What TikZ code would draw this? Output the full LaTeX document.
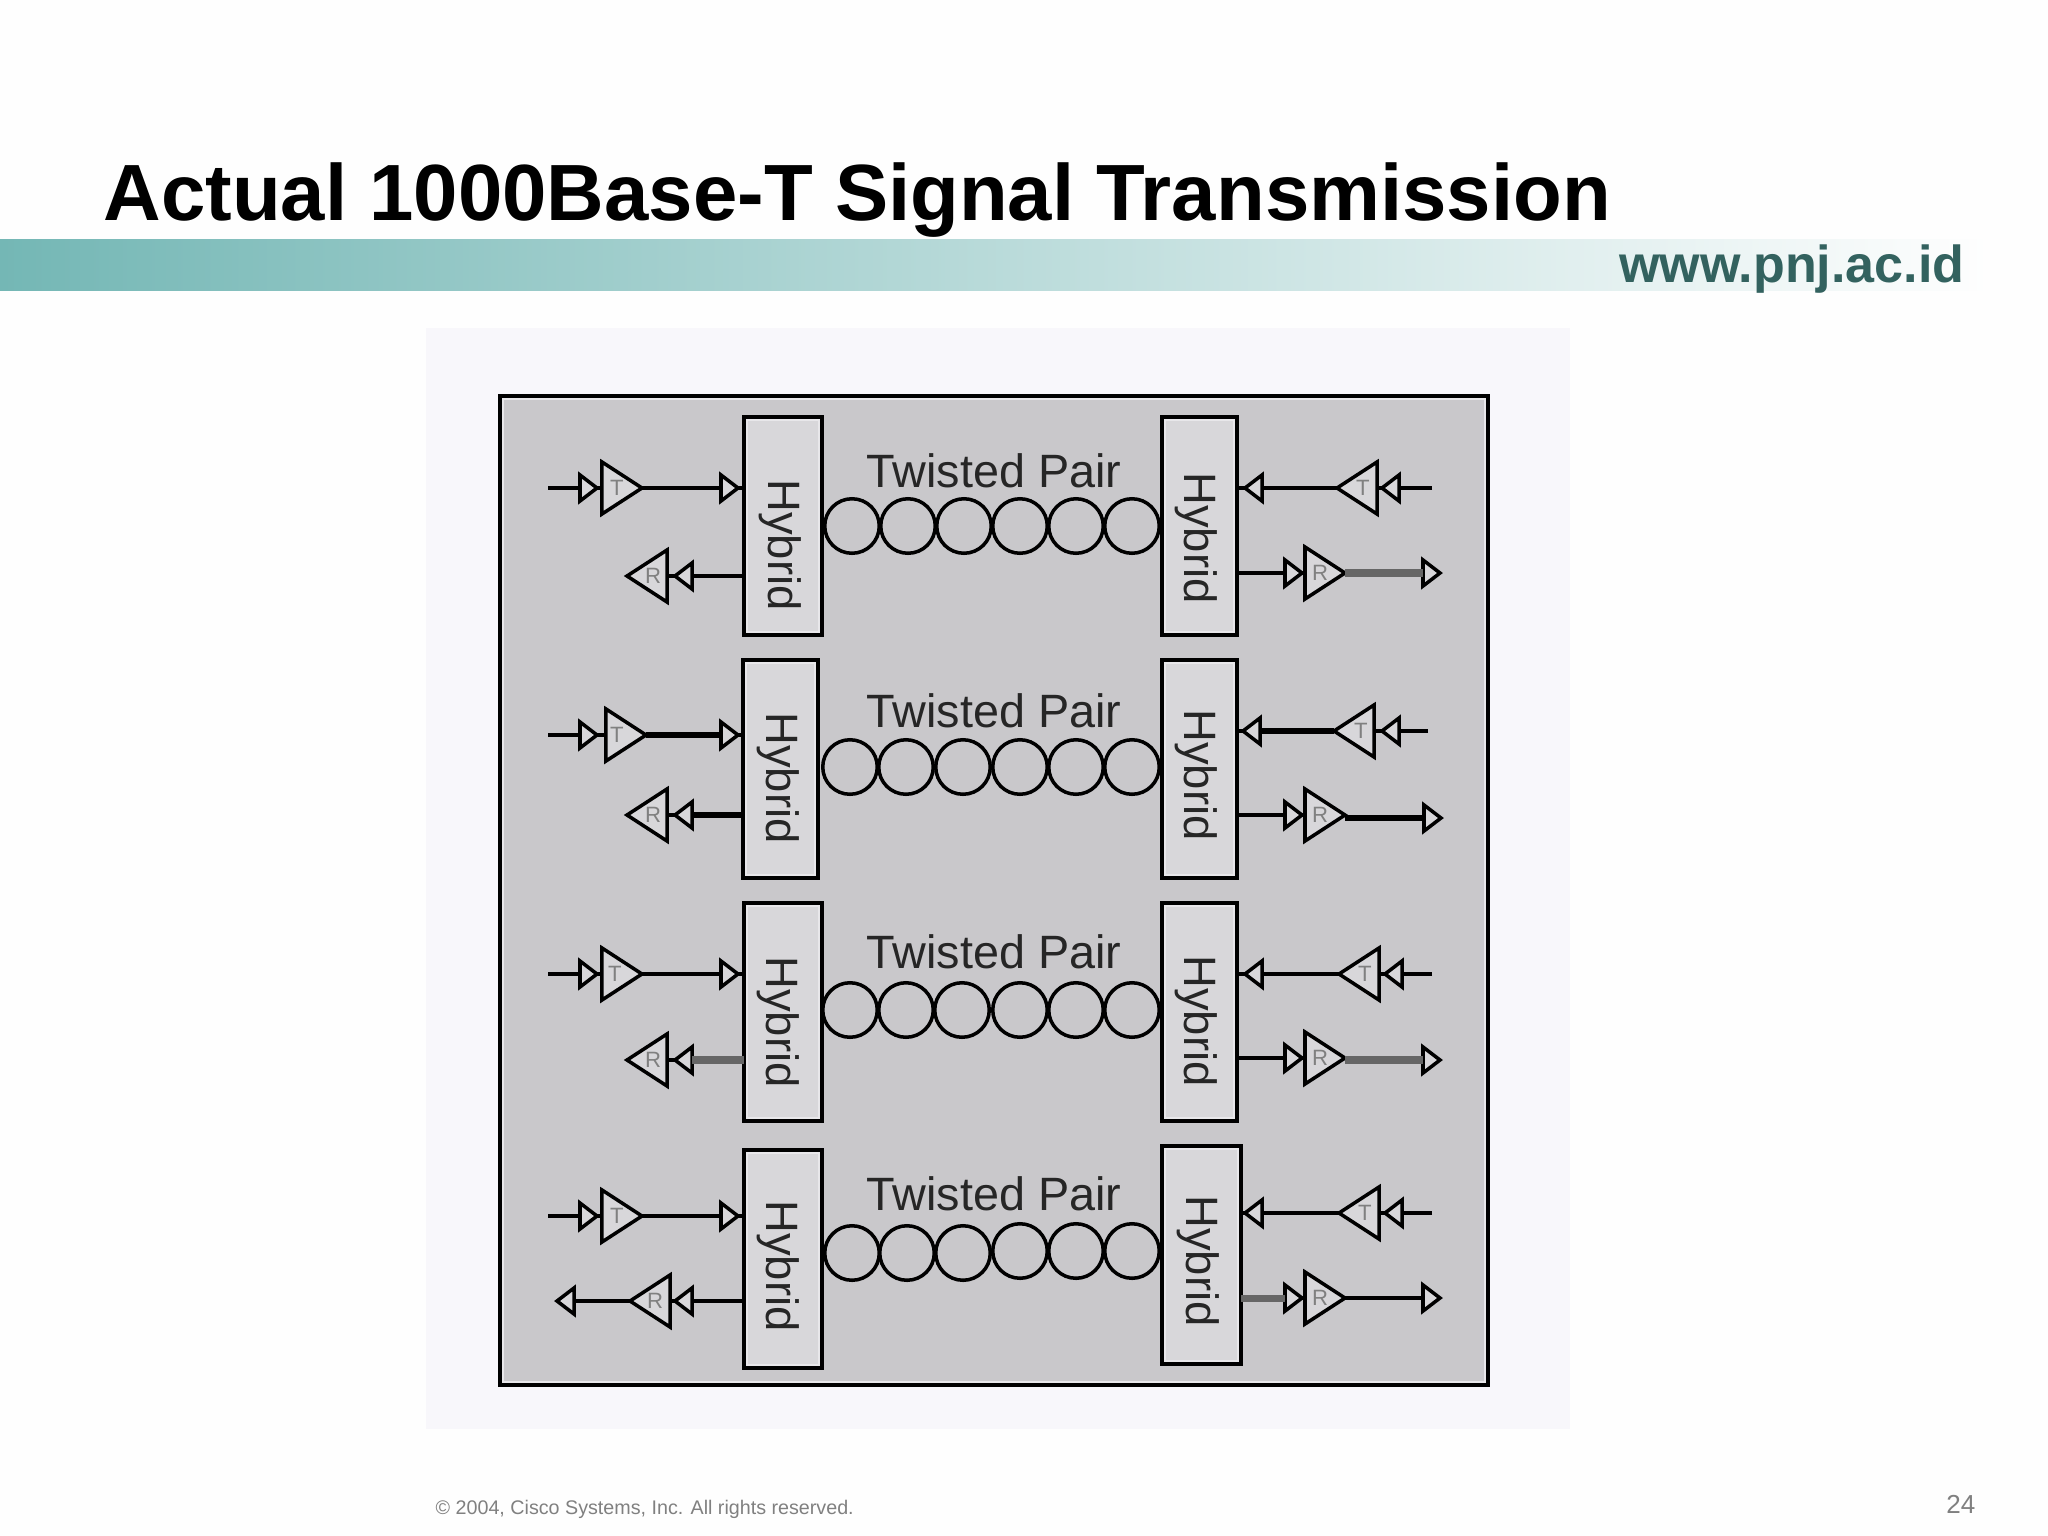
\documentclass[tikz,border=0pt]{standalone}
\usepackage{fontspec}
\setmainfont{Liberation Sans}
\usetikzlibrary{shapes.geometric}
\definecolor{pagewhite}{HTML}{FEFEFE}
\definecolor{paleback}{HTML}{F8F7FB}
\definecolor{panelgray}{HTML}{C9C8CB}
\definecolor{boxgray}{HTML}{D8D7DA}
\definecolor{rimgray}{HTML}{E8E7EA}
\definecolor{bandleft}{HTML}{74B7B5}
\definecolor{urlgreen}{HTML}{33625F}
\definecolor{footgray}{HTML}{808080}
\definecolor{heavygray}{HTML}{666666}
\begin{document}
\begin{tikzpicture}[x=0.01cm, y=-0.01cm,
    sig/.style={line width=1pt},
    sigheavy/.style={line width=2pt, draw=heavygray},
    sigdark/.style={line width=1.5pt},
    rim/.style={path picture={\draw[rimgray, line width=2.3pt] (path picture bounding box.south west) rectangle (path picture bounding box.north east);}},
    hybrid/.style={rectangle, draw, line width=1.15pt, fill=boxgray, rim, minimum width=0.78cm, minimum height=2.18cm, inner sep=0pt, outer sep=0pt},
    hybridtext/.style={rotate=-90, font=\fontsize{12.9}{14}\selectfont, inner sep=0pt, text=black!85},
    pairtext/.style={font=\fontsize{13.3}{16}\selectfont, inner sep=0pt, text=black!85},
    coil/.style={circle, draw, line width=1pt, minimum size=0.545cm, inner sep=0pt},
    tri/.style={isosceles triangle, isosceles triangle stretches, draw, line width=1pt, fill=boxgray, inner sep=0pt, outer sep=0pt, anchor=apex},
    bigr/.style={tri, minimum width=0.52cm, minimum height=0.40cm},
    bigl/.style={bigr, shape border rotate=180},
    smallr/.style={tri, minimum width=0.26cm, minimum height=0.17cm},
    smalll/.style={smallr, shape border rotate=180},
    amptext/.style={font=\fontsize{6.3}{7}\selectfont, inner sep=0pt, text=black!50}]
    \useasboundingbox (0,0) rectangle (2048,1536);
    \fill[pagewhite] (0,0) rectangle (2048,1536);
    \shade[left color=bandleft, right color=pagewhite] (0,239) rectangle (1990,290);
    \fill[paleback] (426,328) rectangle (1570,1429);
    \node[rectangle, draw, line width=1.2pt, fill=panelgray, rim, minimum width=9.88cm, minimum height=9.89cm, inner sep=0pt] (panel) at (994,890.5) {};
    \node[anchor=base west, inner sep=0pt, font=\fontsize{22.68}{26}\bfseries\selectfont] (title) at (103,220) {Actual 1000Base-T Signal Transmission};
    \node[anchor=base east, inner sep=0pt, text=urlgreen, font=\fontsize{14.8}{17}\bfseries\selectfont] (url) at (1965,282) {www.pnj.ac.id};
    \node[anchor=base west, inner sep=0pt, text=footgray, font=\fontsize{5.6}{7}\selectfont] (copy) at (435,1514) {© 2004, Cisco Systems, Inc. All rights reserved.};
    \node[anchor=base east, inner sep=0pt, text=footgray, font=\fontsize{7.4}{9}\selectfont] (page) at (1976,1513) {24};

    % first pair
    \node[hybrid] (hl1) at (783,526) {};
    \node[hybrid, minimum width=0.75cm] (hr1) at (1199.5,526) {};
    \node[hybridtext] (hlt1) at (780,545) {Hybrid};
    \node[hybridtext] (hrt1) at (1196,538) {Hybrid};
    \node[pairtext] (tp1) at (994,471) {Twisted Pair};
    \node[coil] (c1a) at (852,526) {};
    \node[coil] (c1b) at (908,526) {};
    \node[coil] (c1c) at (964,526) {};
    \node[coil] (c1d) at (1020,526) {};
    \node[coil] (c1e) at (1076,526) {};
    \node[coil] (c1f) at (1132,526) {};
    \coordinate (lin1) at (548,488);
    \node[smallr] (lta1) at (597,488) {};
    \node[bigr] (ltb1) at (642,488) {};
    \node[amptext] (ltt1) at (617,488) {T};
    \node[smallr] (ltc1) at (738,488) {};
    \node[bigl] (lrb1) at (627,576) {};
    \node[amptext] (lrt1) at (653,576) {R};
    \node[smalll] (lra1) at (675,576) {};
    \node[smalll] (rta1) at (1245,488) {};
    \node[bigl] (rtb1) at (1337,488) {};
    \node[amptext] (rtt1) at (1363,488) {T};
    \node[smalll] (rtc1) at (1382,488) {};
    \coordinate (rin1) at (1432,488);
    \node[smallr] (rra1) at (1302,573) {};
    \node[bigr] (rrb1) at (1345,573) {};
    \node[amptext] (rrt1) at (1320,573) {R};
    \node[smallr] (rrc1) at (1440,573) {};
    \draw[sig] (lin1) -- (lta1.lower side);
    \draw[sig] (lta1.apex) -- (ltb1.lower side);
    \draw[sig] (ltb1.apex) -- (ltc1.lower side);
    \draw[sig] (ltc1.apex) -- (ltc1.apex -| hl1.west);
    \draw[sig] (lra1.lower side) -- (lra1.lower side -| hl1.west);
    \draw[sig] (lra1.apex) -- (lrb1.lower side);
    \draw[sig] (rta1.apex) -- (rta1.apex -| hr1.east);
    \draw[sig] (rtb1.apex) -- (rta1.lower side);
    \draw[sig] (rtc1.apex) -- (rtb1.lower side);
    \draw[sig] (rin1) -- (rtc1.lower side);
    \draw[sig] (rra1.lower side -| hr1.east) -- (rra1.lower side);
    \draw[sig] (rra1.apex) -- (rrb1.lower side);
    \draw[sigheavy] (rrb1.apex) -- (rrc1.lower side);

    % second pair
    \node[hybrid, minimum width=0.75cm] (hl2) at (780.5,769) {};
    \node[hybrid, minimum width=0.75cm] (hr2) at (1199.5,769) {};
    \node[hybridtext] (hlt2) at (778,778) {Hybrid};
    \node[hybridtext] (hrt2) at (1196,775) {Hybrid};
    \node[pairtext] (tp2) at (994,711) {Twisted Pair};
    \node[coil] (c2a) at (850,767) {};
    \node[coil] (c2b) at (906,767) {};
    \node[coil] (c2c) at (963,767) {};
    \node[coil] (c2d) at (1020,767) {};
    \node[coil] (c2e) at (1076,767) {};
    \node[coil] (c2f) at (1132,767) {};
    \coordinate (lin2) at (548,735);
    \node[smallr] (lta2) at (597,735) {};
    \node[bigr] (ltb2) at (646,735) {};
    \node[amptext] (ltt2) at (617,735) {T};
    \node[smallr] (ltc2) at (738,735) {};
    \node[bigl] (lrb2) at (627,815) {};
    \node[amptext] (lrt2) at (653,815) {R};
    \node[smalll] (lra2) at (675,815) {};
    \node[smalll] (rta2) at (1243,731) {};
    \node[bigl] (rtb2) at (1334,731) {};
    \node[amptext] (rtt2) at (1361,731) {T};
    \node[smalll] (rtc2) at (1382,731) {};
    \coordinate (rin2) at (1428,731);
    \node[smallr] (rra2) at (1302,815) {};
    \node[bigr] (rrb2) at (1345,815) {};
    \node[amptext] (rrt2) at (1320,815) {R};
    \node[smallr] (rrc2) at (1441,818) {};
    \draw[sig] (lin2) -- (lta2.lower side);
    \draw[sig] (lta2.apex) -- (ltb2.lower side);
    \draw[sigdark] (ltb2.apex) -- (ltc2.lower side);
    \draw[sig] (ltc2.apex) -- (ltc2.apex -| hl2.west);
    \draw[sigdark] (lra2.lower side) -- (lra2.lower side -| hl2.west);
    \draw[sig] (lra2.apex) -- (lrb2.lower side);
    \draw[sig] (rta2.apex) -- (rta2.apex -| hr2.east);
    \draw[sigdark] (rtb2.apex) -- (rta2.lower side);
    \draw[sig] (rtc2.apex) -- (rtb2.lower side);
    \draw[sig] (rin2) -- (rtc2.lower side);
    \draw[sig] (rra2.lower side -| hr2.east) -- (rra2.lower side);
    \draw[sig] (rra2.apex) -- (rrb2.lower side);
    \draw[sigdark] (rrb2.apex |- rrc2.lower side) -- (rrc2.lower side);

    % third pair
    \node[hybrid] (hl3) at (783,1012) {};
    \node[hybrid, minimum width=0.75cm] (hr3) at (1199.5,1012) {};
    \node[hybridtext] (hlt3) at (778,1022) {Hybrid};
    \node[hybridtext] (hrt3) at (1196,1021) {Hybrid};
    \node[pairtext] (tp3) at (994,952) {Twisted Pair};
    \node[coil] (c3a) at (850,1010) {};
    \node[coil] (c3b) at (906,1010) {};
    \node[coil] (c3c) at (962,1010) {};
    \node[coil] (c3d) at (1020,1010) {};
    \node[coil] (c3e) at (1076,1010) {};
    \node[coil] (c3f) at (1132,1010) {};
    \coordinate (lin3) at (548,974);
    \node[smallr] (lta3) at (597,974) {};
    \node[bigr] (ltb3) at (642,974) {};
    \node[amptext] (ltt3) at (615,974) {T};
    \node[smallr] (ltc3) at (738,974) {};
    \node[bigl] (lrb3) at (627,1060) {};
    \node[amptext] (lrt3) at (653,1060) {R};
    \node[smalll] (lra3) at (675,1060) {};
    \node[smalll] (rta3) at (1245,974) {};
    \node[bigl] (rtb3) at (1339,974) {};
    \node[amptext] (rtt3) at (1365,974) {T};
    \node[smalll] (rtc3) at (1385,974) {};
    \coordinate (rin3) at (1432,974);
    \node[smallr] (rra3) at (1302,1058) {};
    \node[bigr] (rrb3) at (1345,1058) {};
    \node[amptext] (rrt3) at (1320,1058) {R};
    \node[smallr] (rrc3) at (1440,1060) {};
    \draw[sig] (lin3) -- (lta3.lower side);
    \draw[sig] (lta3.apex) -- (ltb3.lower side);
    \draw[sig] (ltb3.apex) -- (ltc3.lower side);
    \draw[sig] (ltc3.apex) -- (ltc3.apex -| hl3.west);
    \draw[sigheavy] (lra3.lower side) -- (lra3.lower side -| hl3.west);
    \draw[sig] (lra3.apex) -- (lrb3.lower side);
    \draw[sig] (rta3.apex) -- (rta3.apex -| hr3.east);
    \draw[sig] (rtb3.apex) -- (rta3.lower side);
    \draw[sig] (rtc3.apex) -- (rtb3.lower side);
    \draw[sig] (rin3) -- (rtc3.lower side);
    \draw[sig] (rra3.lower side -| hr3.east) -- (rra3.lower side);
    \draw[sig] (rra3.apex) -- (rrb3.lower side);
    \draw[sigheavy] (rrb3.apex |- rrc3.lower side) -- (rrc3.lower side);

    % fourth pair
    \node[hybrid] (hl4) at (783,1259) {};
    \node[hybrid, minimum width=0.79cm] (hr4) at (1201.5,1255) {};
    \node[hybridtext] (hlt4) at (778,1266) {Hybrid};
    \node[hybridtext] (hrt4) at (1198,1261) {Hybrid};
    \node[pairtext] (tp4) at (994,1194) {Twisted Pair};
    \node[coil] (c4a) at (852,1253) {};
    \node[coil] (c4b) at (907,1253) {};
    \node[coil] (c4c) at (963,1253) {};
    \node[coil] (c4d) at (1020,1251) {};
    \node[coil] (c4e) at (1076,1251) {};
    \node[coil] (c4f) at (1132,1251) {};
    \coordinate (lin4) at (548,1216);
    \node[smallr] (lta4) at (597,1216) {};
    \node[bigr] (ltb4) at (642,1216) {};
    \node[amptext] (ltt4) at (617,1216) {T};
    \node[smallr] (ltc4) at (738,1216) {};
    \node[smalll] (lrd4) at (557,1301) {};
    \node[bigl] (lrb4) at (630,1301) {};
    \node[amptext] (lrt4) at (655,1301) {R};
    \node[smalll] (lra4) at (675,1301) {};
    \node[smalll] (rta4) at (1245,1213) {};
    \node[bigl] (rtb4) at (1339,1213) {};
    \node[amptext] (rtt4) at (1365,1213) {T};
    \node[smalll] (rtc4) at (1385,1213) {};
    \coordinate (rin4) at (1432,1213);
    \node[smallr] (rra4) at (1302,1298) {};
    \node[bigr] (rrb4) at (1345,1298) {};
    \node[amptext] (rrt4) at (1320,1298) {R};
    \node[smallr] (rrc4) at (1440,1298) {};
    \draw[sig] (lin4) -- (lta4.lower side);
    \draw[sig] (lta4.apex) -- (ltb4.lower side);
    \draw[sig] (ltb4.apex) -- (ltc4.lower side);
    \draw[sig] (ltc4.apex) -- (ltc4.apex -| hl4.west);
    \draw[sig] (lra4.lower side) -- (lra4.lower side -| hl4.west);
    \draw[sig] (lra4.apex) -- (lrb4.lower side);
    \draw[sig] (lrb4.apex) -- (lrd4.lower side);
    \draw[sig] (rta4.apex) -- (rta4.apex -| hr4.east);
    \draw[sig] (rtb4.apex) -- (rta4.lower side);
    \draw[sig] (rtc4.apex) -- (rtb4.lower side);
    \draw[sig] (rin4) -- (rtc4.lower side);
    \draw[sigheavy] (rra4.lower side -| hr4.east) -- (rra4.lower side);
    \draw[sig] (rra4.apex) -- (rrb4.lower side);
    \draw[sig] (rrb4.apex) -- (rrc4.lower side);
\end{tikzpicture}
\end{document}
